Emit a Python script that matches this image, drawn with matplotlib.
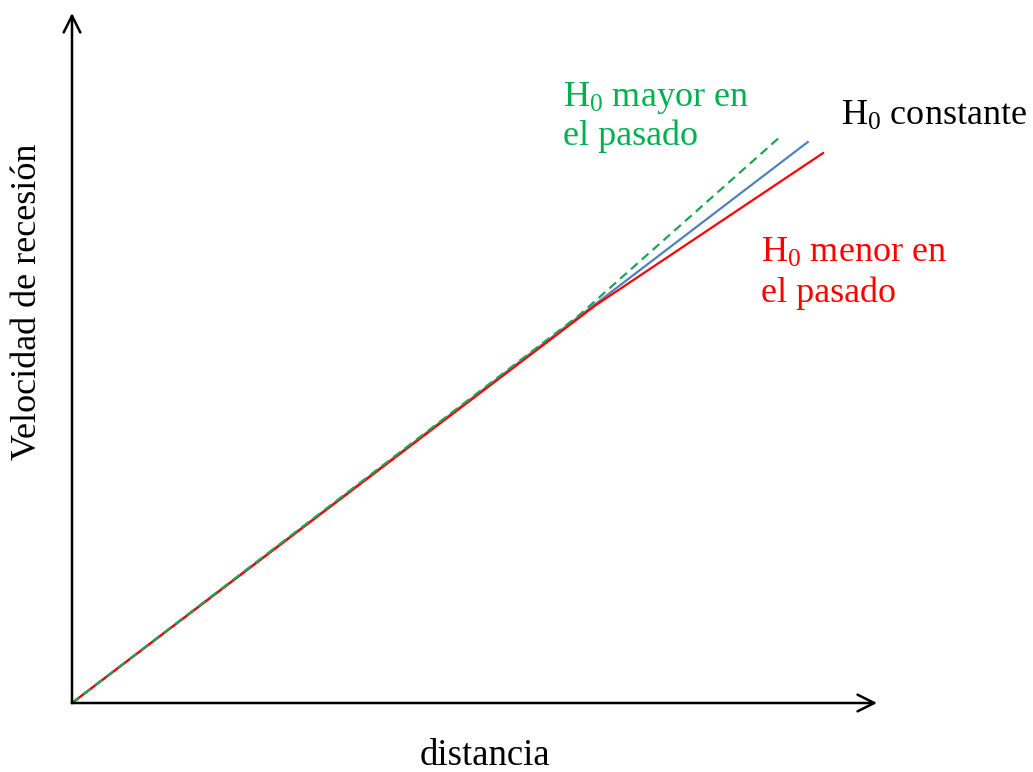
import numpy as np
import matplotlib.pyplot as plt

plt.rcParams['font.family'] = 'Liberation Serif'
plt.rcParams['mathtext.fontset'] = 'custom'
plt.rcParams['mathtext.rm'] = 'Liberation Serif'
plt.rcParams['mathtext.default'] = 'regular'

# Hubble diagram sketch (arbitrary units)
dist_const = [0, 6.5, 9.14]
vel_const = [0, 5.78, 8.13]
dist_menor = [0, 6.5, 9.33]
vel_menor = [0, 5.76, 7.97]
dist_mayor = [0, 6.3, 8.82]
vel_mayor = [0, 5.62, 8.23]

fig = plt.figure(figsize=(10.33, 7.72), dpi=100)
ax = fig.add_axes([72/1033, 69/772, 805/1033, 690/772])
ax.set_xlim(0, 10)
ax.set_ylim(0, 10)
for s in ax.spines.values():
    s.set_visible(False)
ax.set_xticks([])
ax.set_yticks([])

# axes with open arrow heads
arr = dict(arrowstyle='->', lw=1.8, color='k', mutation_scale=30,
           shrinkA=0, shrinkB=0)
ax.annotate('', xy=(1, 0), xytext=(0, 0), xycoords='axes fraction', arrowprops=arr)
ax.annotate('', xy=(0, 1), xytext=(0, 0), xycoords='axes fraction', arrowprops=arr)

ax.plot(dist_const, vel_const, color='#4F81BD', lw=1.6, clip_on=False)
ax.plot(dist_menor, vel_menor, color='#FF0000', lw=1.6, clip_on=False)
ax.plot(dist_mayor, vel_mayor, color='#1FA354', lw=1.6, ls=(0, (4, 2.5)), clip_on=False)

fs = 26
ax.text(6.10, 8.65, 'H$_0$ mayor en', color='#00B050', fontsize=fs, va='baseline')
ax.text(6.10, 8.09, 'el pasado', color='#00B050', fontsize=fs, va='baseline')
ax.text(9.55, 8.38, 'H$_0$ constante', color='k', fontsize=fs, va='baseline')
ax.text(8.56, 6.39, 'H$_0$ menor en', color='#FF0000', fontsize=fs, va='baseline')
ax.text(8.56, 5.81, 'el pasado', color='#FF0000', fontsize=fs, va='baseline')

fig.text(485/1033, 1 - 756/772, 'distancia', fontsize=26.5, ha='center', va='center')
fig.text(28/1033, 1 - 302/772, 'Velocidad de recesión', fontsize=fs,
         ha='center', va='center', rotation=90)

fig.savefig('out.png', dpi=100)
